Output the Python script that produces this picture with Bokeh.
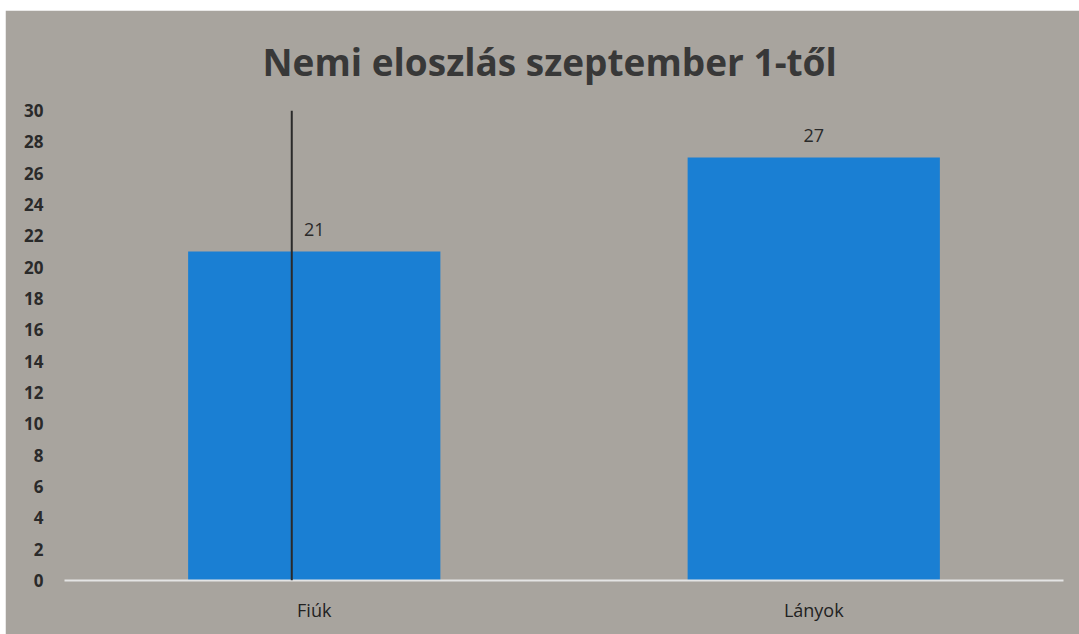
from bokeh.plotting import figure
from bokeh.models import ColumnDataSource, FixedTicker, Span, LabelSet, Range1d
from bokeh.core.properties import value
from bokeh.embed import file_html
from bokeh.resources import INLINE

categories = ["Fiúk", "Lányok"]
counts = [21, 27]
y_ticks = list(range(0, 31, 2))
title_text = "Nemi eloszlás szeptember 1-től"

BG = "#a8a49e"
BAR = "#1a7fd3"

src = ColumnDataSource(dict(cat=categories, val=counts, lab=[str(v) for v in counts]))

p = figure(x_range=categories, y_range=Range1d(0, 30), width=1074, height=624,
           output_backend="svg", toolbar_location=None, margin=(10, 0, 0, 5),
           min_border_left=59, min_border_right=16, min_border_top=98, min_border_bottom=54)

p.background_fill_color = BG
p.border_fill_color = BG
p.outline_line_color = BG
p.outline_line_width = 2

p.vbar(x="cat", top="val", width=0.505, source=src, fill_color=BAR, line_color=None)

labels = LabelSet(x="cat", y="val", text="lab", source=src, text_align="center",
                  text_baseline="bottom", y_offset=16, text_font_size="18px",
                  text_color="#2a2a2a", text_font=value("Open Sans"))
p.add_layout(labels)

p.title.text = title_text
p.title.text_font = "Open Sans"
p.title.text_font_size = "37px"
p.title.text_font_style = "bold"
p.title.text_color = "#383838"
p.title.align = "left"
p.title.offset = 198
p.title.standoff = 47

p.xgrid.grid_line_color = None
p.ygrid.grid_line_color = None

p.yaxis.ticker = FixedTicker(ticks=y_ticks)
p.yaxis.axis_line_color = None
p.yaxis.major_tick_line_color = None
p.yaxis.minor_tick_line_color = None
p.yaxis.major_tick_out = 0
p.yaxis.major_label_standoff = 21
p.yaxis.major_label_text_font = "Open Sans"
p.yaxis.major_label_text_font_size = "17px"
p.yaxis.major_label_text_color = "#2a2a2a"
p.yaxis.major_label_text_font_style = "bold"

p.xaxis.axis_line_color = "#e4e4e4"
p.xaxis.axis_line_width = 2
p.xaxis.major_tick_line_color = None
p.xaxis.minor_tick_line_color = None
p.xaxis.major_tick_out = 0
p.xaxis.major_label_standoff = 17
p.xaxis.major_label_text_font = "Open Sans"
p.xaxis.major_label_text_font_size = "18px"
p.xaxis.major_label_text_color = "#222222"

# dark vertical line crossing the scanned chart
p.add_layout(Span(location=0.455, dimension="height", line_color="#2a2a2a", line_width=2))

open("out.html", "w").write(file_html(p, INLINE))
